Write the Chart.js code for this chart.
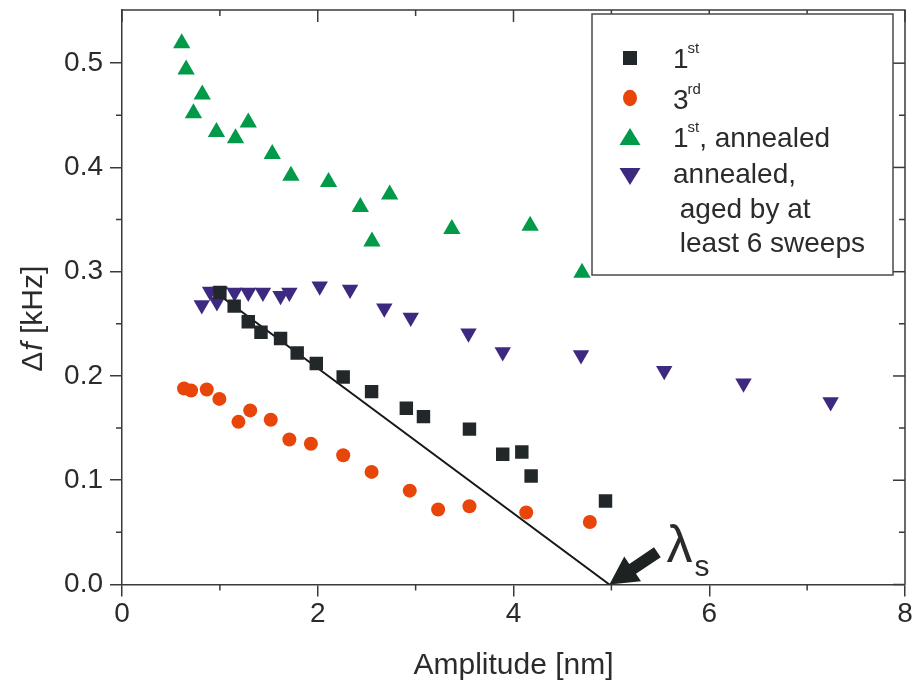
<!DOCTYPE html>
<html><head><meta charset="utf-8">
<script src="https://cdn.jsdelivr.net/npm/chart.js@4/dist/chart.umd.min.js"></script>
<style>html,body{margin:0;padding:0;background:#fff}</style>
</head><body>
<canvas id="c" width="916" height="689" style="display:block"></canvas>
<script>
// ---- data ----
const xTickValues = [0, 2, 4, 6, 8];
const yTickValues = [0.0, 0.1, 0.2, 0.3, 0.4, 0.5];

const firstX = [1.0, 1.146, 1.29, 1.42, 1.62, 1.79, 1.985, 2.26, 2.55, 2.905, 3.08, 3.55, 3.89, 4.085, 4.18, 4.94];
const firstY = [0.280, 0.267, 0.252, 0.242, 0.236, 0.222, 0.212, 0.199, 0.185, 0.169, 0.161, 0.149, 0.125, 0.127, 0.104, 0.080];

const thirdX = [0.634, 0.706, 0.866, 0.995, 1.19, 1.31, 1.52, 1.71, 1.93, 2.26, 2.55, 2.94, 3.23, 3.55, 4.13, 4.78];
const thirdY = [0.188, 0.186, 0.187, 0.178, 0.156, 0.167, 0.158, 0.139, 0.135, 0.124, 0.108, 0.090, 0.072, 0.075, 0.069, 0.060];

const annealedX = [0.61, 0.655, 0.73, 0.82, 0.965, 1.16, 1.29, 1.535, 1.726, 2.11, 2.435, 2.554, 2.735, 3.37, 4.17, 4.70];
const annealedY = [0.519, 0.494, 0.452, 0.470, 0.434, 0.428, 0.443, 0.413, 0.392, 0.386, 0.362, 0.329, 0.374, 0.341, 0.344, 0.299];

const agedX = [0.815, 0.90, 0.97, 1.0, 1.15, 1.29, 1.44, 1.62, 1.71, 2.02, 2.33, 2.68, 2.95, 3.54, 3.89, 4.69, 5.54, 6.35, 7.24];
const agedY = [0.268, 0.281, 0.271, 0.281, 0.280, 0.280, 0.280, 0.277, 0.280, 0.286, 0.283, 0.265, 0.256, 0.241, 0.223, 0.220, 0.205, 0.193, 0.175];

const fitX = [0.944, 4.98];
const fitY = [0.281, 0.0];

const arrowFrom = [5.47, 0.031];
const arrowTo = [4.98, 0.0];

const legendItems = [
  {style: 'rect', color: '#22282a', parts: [['1',''], ['st','sup']]},
  {style: 'circle', color: '#e8450a', parts: [['3',''], ['rd','sup']]},
  {style: 'tri', color: '#009a48', parts: [['1',''], ['st','sup'], [', annealed','']]},
  {style: 'tridown', color: '#3d2a80', parts: [['annealed,','']]},
];
const legendExtraLines = [' aged by at', ' least 6 sweeps'];

// ---- style ----
const FONT = "'Liberation Sans', Arial, Helvetica, sans-serif";
const AX = '#3a3a3a', TXT = '#2b2b2b';
const COL_SQ = '#22282a', COL_CI = '#e8450a', COL_TR = '#009a48', COL_TD = '#3d2a80';

function pts(xs, ys) { return xs.map((x, i) => ({x: x, y: ys[i]})); }

function drawMarker(ctx, style, x, y, color) {
  ctx.fillStyle = color;
  ctx.beginPath();
  if (style === 'rect') { ctx.rect(x - 7, y - 7, 14, 14); }
  else if (style === 'circle') { ctx.ellipse(x, y, 7, 8.3, 0, 0, Math.PI * 2); }
  else if (style === 'tri') { ctx.moveTo(x, y - 10); ctx.lineTo(x + 10.5, y + 7); ctx.lineTo(x - 10.5, y + 7); ctx.closePath(); }
  else { ctx.moveTo(x, y + 10); ctx.lineTo(x + 10.5, y - 7); ctx.lineTo(x - 10.5, y - 7); ctx.closePath(); }
  ctx.fill();
}

const decor = {
  id: 'decor',
  afterDraw(chart) {
    const ctx = chart.ctx, xs = chart.scales.x, ys = chart.scales.y, a = chart.chartArea;
    ctx.save();
    ctx.strokeStyle = AX; ctx.lineWidth = 1.5;
    ctx.beginPath();
    ctx.moveTo(a.left, a.top); ctx.lineTo(a.right, a.top); ctx.lineTo(a.right, a.bottom);
    ctx.stroke();
    for (let v = 0; v <= 8; v++) {
      const px = xs.getPixelForValue(v);
      const major = v % 2 === 0;
      ctx.beginPath();
      ctx.moveTo(px, a.top); ctx.lineTo(px, a.top + (major ? 12 : 6));
      if (!major) { ctx.moveTo(px, a.bottom); ctx.lineTo(px, a.bottom + 6); }
      ctx.stroke();
    }
    for (let k = 0; k <= 10; k++) {
      const v = k * 0.05;
      const py = ys.getPixelForValue(v);
      const major = k % 2 === 0;
      ctx.beginPath();
      ctx.moveTo(a.right, py); ctx.lineTo(a.right - (major ? 12 : 6), py);
      if (!major) { ctx.moveTo(a.left, py); ctx.lineTo(a.left - 6, py); }
      ctx.stroke();
    }

    // arrow
    const p1 = {x: xs.getPixelForValue(arrowFrom[0]), y: ys.getPixelForValue(arrowFrom[1])};
    const p2 = {x: xs.getPixelForValue(arrowTo[0]), y: ys.getPixelForValue(arrowTo[1])};
    let dx = p2.x - p1.x, dy = p2.y - p1.y;
    const len = Math.hypot(dx, dy); dx /= len; dy /= len;
    const nx = -dy, ny = dx;
    const sw = 6, hl = 28, hw = 15;
    const nb = {x: p2.x - dx * hl, y: p2.y - dy * hl};
    ctx.fillStyle = '#1e2222';
    ctx.beginPath();
    ctx.moveTo(p1.x + nx * sw, p1.y + ny * sw);
    ctx.lineTo(nb.x + nx * sw, nb.y + ny * sw);
    ctx.lineTo(nb.x + nx * hw, nb.y + ny * hw);
    ctx.lineTo(p2.x, p2.y);
    ctx.lineTo(nb.x - nx * hw, nb.y - ny * hw);
    ctx.lineTo(nb.x - nx * sw, nb.y - ny * sw);
    ctx.lineTo(p1.x - nx * sw, p1.y - ny * sw);
    ctx.closePath(); ctx.fill();

    // lambda_s label
    ctx.fillStyle = TXT;
    ctx.textBaseline = 'alphabetic'; ctx.textAlign = 'left';
    ctx.font = '52px ' + FONT;
    ctx.fillText('λ', p1.x + 9, p1.y + 10);
    ctx.font = '30px ' + FONT;
    ctx.fillText('s', p1.x + 37, p1.y + 24);

    // legend box
    const bx = 592, by = 14, bw = 301, bh = 261;
    ctx.fillStyle = '#fff';
    ctx.fillRect(bx, by, bw, bh);
    ctx.strokeStyle = '#4a4a4a'; ctx.lineWidth = 1.5;
    ctx.strokeRect(bx, by, bw, bh);
    const rowBase = [68, 109, 147, 183];
    const rowMark = [58, 98, 138, 175];
    legendItems.forEach((it, i) => {
      drawMarker(ctx, it.style, 630, rowMark[i], it.color);
      let x = 673;
      ctx.fillStyle = TXT;
      it.parts.forEach(p => {
        if (p[1] === 'sup') {
          ctx.font = '15px ' + FONT;
          ctx.fillText(p[0], x - 1, rowBase[i] - 15);
          x += ctx.measureText(p[0]).width - 1;
        } else {
          ctx.font = '28px ' + FONT;
          ctx.fillText(p[0], x, rowBase[i]);
          x += ctx.measureText(p[0]).width;
        }
      });
    });
    ctx.font = '28px ' + FONT;
    ctx.fillText(legendExtraLines[0], 672, 218);
    ctx.fillText(legendExtraLines[1], 672, 252);

    // axis titles
    ctx.fillStyle = TXT;
    ctx.font = '30px ' + FONT;
    ctx.textAlign = 'center';
    ctx.fillText('Amplitude [nm]', (a.left + a.right) / 2, 674);

    ctx.save();
    ctx.translate(42, (a.top + a.bottom) / 2 + 22);
    ctx.rotate(-Math.PI / 2);
    ctx.textAlign = 'left';
    const f1 = '30px ' + FONT, f2 = 'italic 30px ' + FONT;
    ctx.font = f1; const w1 = ctx.measureText('Δ').width;
    ctx.font = f2; const w2 = ctx.measureText('f').width;
    ctx.font = f1; const w3 = ctx.measureText(' [kHz]').width;
    let sx = -(w1 + w2 + w3) / 2;
    ctx.font = f1; ctx.fillText('Δ', sx, 0); sx += w1 + 1;
    ctx.font = f2; ctx.fillText('f', sx, 0); sx += w2;
    ctx.font = f1; ctx.fillText(' [kHz]', sx, 0);
    ctx.restore();

    ctx.restore();
  }
};

Chart.defaults.font.family = FONT;

new Chart(document.getElementById('c'), {
  type: 'scatter',
  data: {
    datasets: [
      {label: '1st', data: pts(firstX, firstY), pointStyle: 'rect', pointRadius: 9.5, pointHoverRadius: 9.5,
        backgroundColor: COL_SQ, borderWidth: 0},
      {label: '3rd', data: pts(thirdX, thirdY), pointStyle: 'circle', pointRadius: 7, pointHoverRadius: 7,
        backgroundColor: COL_CI, borderWidth: 0},
      {label: '1st, annealed', data: pts(annealedX, annealedY), pointStyle: 'triangle', pointRadius: 10, pointHoverRadius: 10,
        backgroundColor: COL_TR, borderWidth: 0},
      {label: 'annealed, aged', data: pts(agedX, agedY), pointStyle: 'triangle', pointRotation: 180, pointRadius: 9.5, pointHoverRadius: 9.5,
        backgroundColor: COL_TD, borderWidth: 0},
      {type: 'line', label: 'fit', data: pts(fitX, fitY), borderColor: '#141818', borderWidth: 2,
        pointRadius: 0, fill: false, tension: 0}
    ]
  },
  options: {
    responsive: false,
    devicePixelRatio: 1,
    animation: false,
    layout: {padding: {top: 7.5, right: 11, left: 0, bottom: 0}},
    plugins: {legend: {display: false}, tooltip: {enabled: false}},
    scales: {
      x: {
        type: 'linear', min: 0, max: 8,
        afterFit(s) { s.height = 104.5; s.paddingLeft = 0; s.paddingRight = 0; },
        afterBuildTicks(s) { s.ticks = xTickValues.map(v => ({value: v})); },
        ticks: {font: {size: 28}, color: TXT, padding: 1, maxRotation: 0, callback: v => String(v)},
        grid: {drawOnChartArea: false, drawTicks: true, tickLength: 12, color: AX, lineWidth: 1.5},
        border: {display: true, color: AX, width: 1.5}
      },
      y: {
        type: 'linear', min: 0, max: 0.551,
        afterFit(s) { s.width = 122; s.paddingTop = 0; s.paddingBottom = 0; },
        afterBuildTicks(s) { s.ticks = yTickValues.map(v => ({value: v})); },
        ticks: {font: {size: 28}, color: TXT, padding: 7, callback: v => Number(v).toFixed(1)},
        grid: {drawOnChartArea: false, drawTicks: true, tickLength: 12, color: AX, lineWidth: 1.5},
        border: {display: true, color: AX, width: 1.5}
      }
    }
  },
  plugins: [decor]
});
</script>
</body></html>
